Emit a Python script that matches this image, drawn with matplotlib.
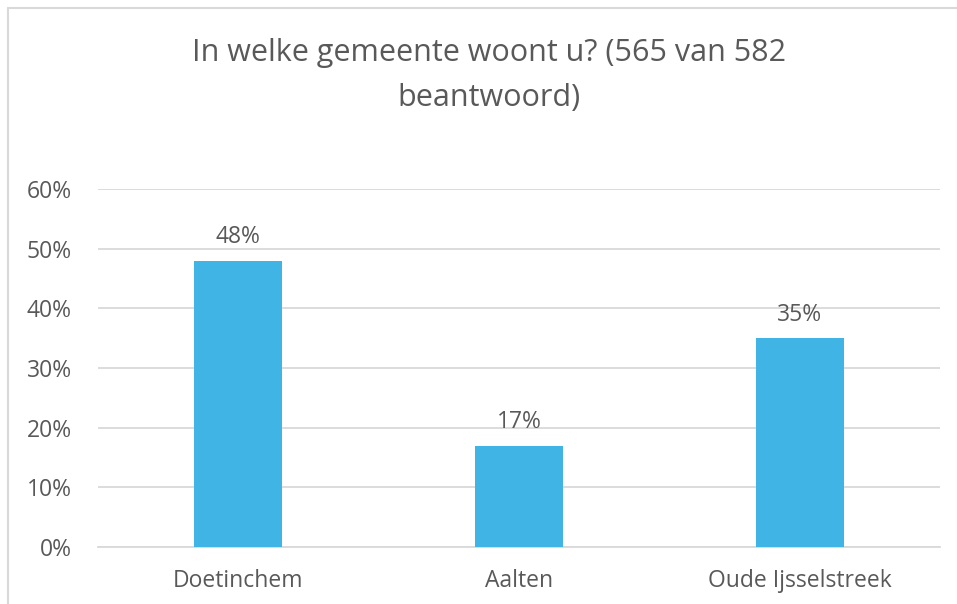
import matplotlib.pyplot as plt
from matplotlib.patches import Rectangle
from matplotlib.ticker import PercentFormatter

# survey data
gemeenten = ["Doetinchem", "Aalten", "Oude Ijsselstreek"]
aandeel = [0.48, 0.17, 0.35]
yticks = [0, 0.1, 0.2, 0.3, 0.4, 0.5, 0.6]

plt.rcParams["font.family"] = ["Open Sans", "DejaVu Sans"]
grey = "#595959"

fig = plt.figure(figsize=(9.57, 6.04), dpi=100)
ax = fig.add_axes([98 / 957, 1 - 547 / 604, 842 / 957, (547 - 189) / 604])

# light chart border (only top and left are visible in the crop)
fig.patches.append(Rectangle((8 / 957, -0.1), 1.2, 1 - 8 / 604 + 0.1,
                             transform=fig.transFigure, fill=False,
                             edgecolor="#D9D9D9", lw=1.5))

x = range(len(gemeenten))
bars = ax.bar(x, aandeel, width=0.313, color="#41B4E6", zorder=3)

for b, v in zip(bars, aandeel):
    ax.annotate(f"{v:.0%}", (b.get_x() + b.get_width() / 2, v),
                xytext=(0, 8), textcoords="offset points",
                ha="center", va="bottom", fontsize=16.5, color=grey)

ax.set_xlim(-0.5, len(gemeenten) - 0.5)
ax.set_ylim(0, 0.6)
ax.set_yticks(yticks)
ax.yaxis.set_major_formatter(PercentFormatter(1.0, decimals=0))
ax.set_xticks(list(x))
ax.set_xticklabels(gemeenten)

ax.grid(axis="y", color="#D9D9D9", lw=1.3, zorder=0)
for s in ["top", "right", "left"]:
    ax.spines[s].set_visible(False)
ax.spines["bottom"].set_color("#D9D9D9")
ax.spines["bottom"].set_linewidth(1.3)
ax.tick_params(axis="both", length=0, labelsize=16.5, labelcolor=grey)
ax.tick_params(axis="x", pad=16)
ax.tick_params(axis="y", pad=19)

# title is centred on the chart frame, which is a bit right of the figure centre
tx = 489 / 957
fig.text(tx, 1 - 53 / 604, "In welke gemeente woont u? (565 van 582",
         ha="center", va="center", fontsize=22, color=grey)
fig.text(tx, 1 - 98 / 604, "beantwoord)",
         ha="center", va="center", fontsize=22, color=grey)

fig.savefig("out.png", dpi=100)
